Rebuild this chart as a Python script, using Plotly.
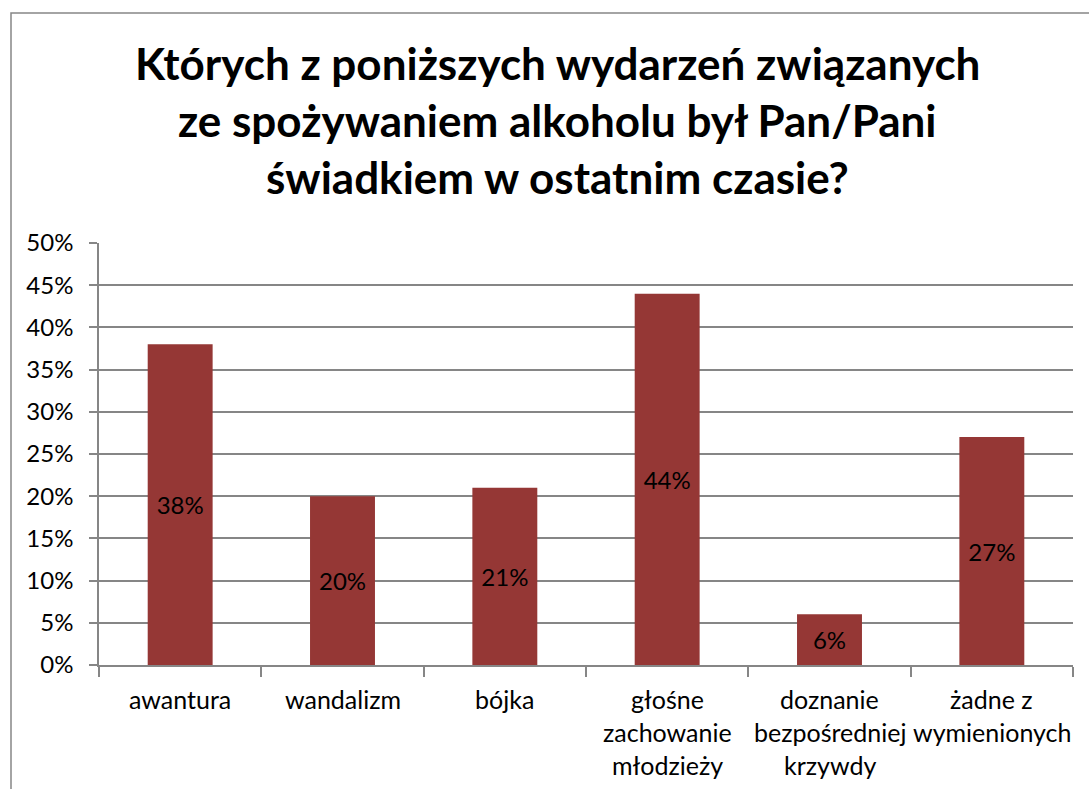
import plotly.graph_objects as go

categories = ["awantura", "wandalizm", "bójka", "głośne zachowanie młodzieży",
              "doznanie bezpośredniej krzywdy", "żadne z wymienionych"]
category_lines = [["awantura"], ["wandalizm"], ["bójka"],
                  ["głośne", "zachowanie", "młodzieży"],
                  ["doznanie", "bezpośredniej", "krzywdy"],
                  ["żadne z", "wymienionych"]]
values = [0.38, 0.20, 0.21, 0.44, 0.06, 0.27]
title_lines = ["Których z poniższych wydarzeń związanych",
               "ze spożywaniem alkoholu był Pan/Pani",
               "świadkiem w ostatnim czasie?"]

W, H = 1089, 789
L, R, T, B = 99, 1089 - 1073, 243, 789 - 665
plot_h = H - T - B
plot_w = W - L - R

def py(px):
    return (H - B - px) / plot_h

def pxx(px):
    return (px - L) / plot_w

FONT = "Lato, 'Open Sans', sans-serif"
GRID = "#868686"

fig = go.Figure()
fig.add_trace(go.Bar(
    x=categories, y=values,
    marker=dict(color="#953735", line=dict(width=0)),
    texttemplate="%{y:.0%}", textposition="inside", insidetextanchor="middle",
    textangle=0, textfont=dict(family=FONT, size=24, color="black"),
    cliponaxis=False,
))

annotations = []
for i, line in enumerate(title_lines):
    annotations.append(dict(
        text=line, x=pxx(557), y=py(63 + 57 * i), xref="paper", yref="paper",
        xanchor="center", yanchor="middle", showarrow=False,
        font=dict(family=FONT, size=44, color="black", weight="bold"),
    ))
for cat, lines in zip(categories, category_lines):
    for j, ln in enumerate(lines):
        annotations.append(dict(
            text=ln, x=cat, y=py(699 + 33 * j), xref="x", yref="paper",
            xanchor="center", yanchor="middle", showarrow=False,
            font=dict(family=FONT, size=25, color="black"),
        ))

fig.update_layout(
    width=W, height=H,
    margin=dict(l=L, r=R, t=T, b=B, pad=0),
    paper_bgcolor="white", plot_bgcolor="white",
    showlegend=False, bargap=0.6,
    annotations=annotations,
    shapes=[dict(type="rect", xref="paper", yref="paper",
                 x0=pxx(11), x1=pxx(1200), y0=py(900), y1=py(13),
                 line=dict(color=GRID, width=1.5), layer="below")],
    xaxis=dict(showticklabels=False, showline=True, linecolor=GRID, linewidth=1.5,
               ticks="outside", ticklen=10, tickcolor=GRID, tickwidth=1.5,
               tickson="boundaries", showgrid=False, zeroline=False,
               range=[-0.5, 5.5]),
    yaxis=dict(range=[0, 0.5], dtick=0.05, tickformat=".0%",
               showline=True, linecolor=GRID, linewidth=1.5,
               ticks="outside", ticklen=8, tickcolor=GRID, tickwidth=1.5,
               showgrid=True, gridcolor=GRID, gridwidth=1.5, zeroline=False,
               ticklabelstandoff=11,
               tickfont=dict(family=FONT, size=24, color="black")),
)

fig.write_html("out.html", config={"displayModeBar": False},
               post_script="document.body.style.margin='0';")
